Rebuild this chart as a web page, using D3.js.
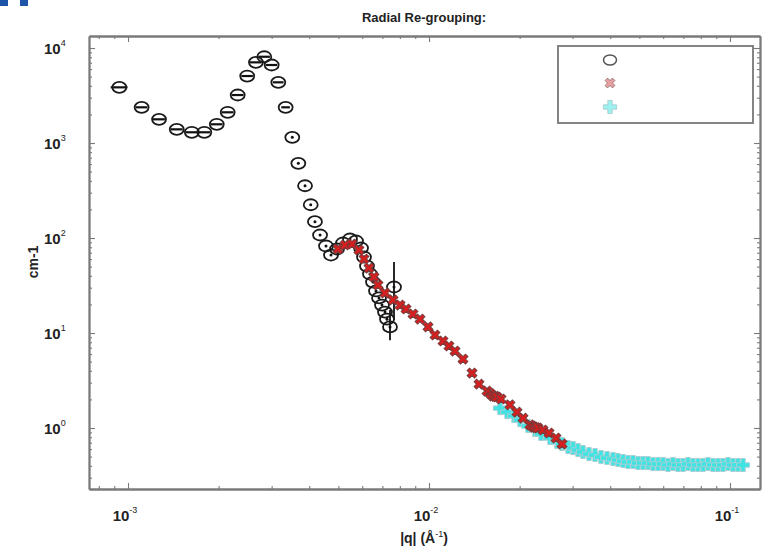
<!DOCTYPE html>
<html>
<head>
<meta charset="utf-8">
<script src="https://cdn.jsdelivr.net/npm/d3@7"></script>
<style>
  body { margin: 0; background: #fff; }
  svg { display: block; font-family: "Liberation Sans", Arial, sans-serif; }
  .frame line, .frame path { stroke: #7a7a7a; }
  .lbl { font-weight: bold; fill: #222; }
</style>
</head>
<body>
<svg width="763" height="548"></svg>
<script>
// black circles (first radial grouping)
var blackQ = [9.36e-4, 1.110e-3, 1.268e-3, 1.452e-3, 1.629e-3, 1.793e-3, 1.972e-3, 2.144e-3,
  2.314e-3, 2.489e-3, 2.661e-3, 2.836e-3, 3.001e-3, 3.157e-3, 3.340e-3, 3.514e-3, 3.680e-3,
  3.874e-3, 4.046e-3, 4.179e-3, 4.345e-3, 4.548e-3, 4.725e-3, 4.948e-3, 5.180e-3, 5.464e-3,
  5.721e-3, 5.944e-3, 6.082e-3, 6.223e-3, 6.368e-3, 6.516e-3, 6.668e-3, 6.823e-3, 6.981e-3,
  7.142e-3, 7.253e-3, 7.42e-3, 7.651e-3];
var blackI = [3855, 2376, 1776, 1393, 1297, 1297, 1574, 2105, 3200, 5070, 7065, 8090, 6625,
  4353, 2376, 1148, 611, 355, 224, 148.6, 107.6, 82.4, 66.2, 76.6, 88.6, 97.6, 93.0, 78.5,
  63.1, 50.7, 41.8, 34.4, 27.7, 23.4, 19.7, 16.6, 14.0, 11.6, 30.5];
// horizontal (q) error, 0 where not visible
var blackDq = [0.6e-4, 0.5e-4, 0.58e-4, 0.66e-4, 0.74e-4, 0.82e-4, 0.9e-4, 0.98e-4, 1.05e-4,
  1.1e-4, 1.2e-4, 1.25e-4, 1.3e-4, 1.3e-4, 1.1e-4, 0, 0, 0, 0, 0, 0, 0, 0, 0, 0, 0, 0, 0, 0,
  0, 0, 0, 0, 0, 0, 0, 0, 0, 0];
// large vertical error bars on the last black points
var errQ = [7.42e-3, 7.651e-3];
var errLo = [8.4, 13.7];
var errHi = [17.5, 56];

// red crosses (second grouping)
var redQ = [4.985e-3, 5.258e-3, 5.548e-3, 5.852e-3, 6.082e-3, 6.319e-3, 6.566e-3, 6.770e-3,
  7.142e-3, 7.594e-3, 8.012e-3, 8.389e-3, 8.848e-3, 9.335e-3, 9.924e-3, 1.047e-2, 1.113e-2,
  1.165e-2, 1.220e-2, 1.297e-2, 1.390e-2, 1.466e-2, 1.559e-2, 1.600e-2, 1.632e-2, 1.660e-2,
  1.682e-2, 1.735e-2, 1.858e-2, 1.961e-2, 2.053e-2, 2.165e-2, 2.200e-2, 2.233e-2, 2.270e-2,
  2.302e-2, 2.392e-2, 2.505e-2, 2.642e-2, 2.767e-2];
var redI = [76.6, 84.4, 86.5, 74.8, 60.1, 48.3, 38.9, 32.0, 26.4, 22.3, 19.7, 17.9, 15.85,
  14.0, 11.6, 9.53, 8.24, 7.30, 6.46, 5.32, 3.79, 2.90, 2.45, 2.30, 2.17, 2.15, 2.12, 2.02,
  1.75, 1.47, 1.27, 1.08, 1.05, 1.02, 1.01, 1.00, 0.953, 0.886, 0.785, 0.679];

// cyan pluses (third grouping)
var cyanQ = [1.721e-2, 1.816e-2, 1.916e-2, 2.006e-2, 2.132e-2, 2.250e-2, 2.356e-2, 2.523e-2,
  2.662e-2, 2.767e-2, 2.897e-2, 3.010e-2, 3.126e-2, 3.248e-2, 3.401e-2, 3.561e-2, 3.728e-2,
  3.904e-2, 4.087e-2, 4.246e-2, 4.411e-2, 4.583e-2, 4.762e-2, 4.948e-2, 5.140e-2, 5.340e-2,
  5.548e-2, 5.765e-2, 5.990e-2, 6.223e-2, 6.465e-2, 6.717e-2, 6.981e-2, 7.253e-2, 7.535e-2,
  7.829e-2, 8.134e-2, 8.450e-2, 8.780e-2, 9.122e-2, 9.478e-2, 9.849e-2, 1.023e-1, 1.063e-1,
  1.105e-1];
var cyanI = [1.62, 1.47, 1.34, 1.21, 1.05, 0.953, 0.865, 0.785, 0.712, 0.679, 0.631, 0.616,
  0.587, 0.559, 0.532, 0.520, 0.495, 0.483, 0.472, 0.460, 0.449, 0.439, 0.439, 0.428, 0.428,
  0.428, 0.418, 0.418, 0.418, 0.408, 0.418, 0.408, 0.408, 0.418, 0.408, 0.408, 0.408, 0.418,
  0.408, 0.408, 0.408, 0.418, 0.408, 0.408, 0.408];

var xMajor = [1e-3, 1e-2, 1e-1];
var yMajor = [1, 10, 100, 1000, 10000];
var xLabels = ["-3", "-2", "-1"];
var yLabels = ["0", "1", "2", "3", "4"];

var svg = d3.select("svg");
var L = 89, R = 760, T = 36, B = 489;

var x = d3.scaleLog().domain([7.42e-4, 0.1258]).range([L, R]);
var y = d3.scaleLog().domain([0.228, 13380]).range([B, T]);

// minor tick values from the scale's own ticks
var xMinor = x.ticks().filter(function(d) { return xMajor.indexOf(d) < 0; });
var yMinor = y.ticks().filter(function(d) { return yMajor.map(String).indexOf(String(d)) < 0; });

// cropped blue heading above the figure
svg.append("rect").attr("x", 0).attr("y", 0).attr("width", 8).attr("height", 6).attr("fill", "#1f55a8");
svg.append("rect").attr("x", 20).attr("y", 0).attr("width", 8).attr("height", 6).attr("fill", "#1f55a8");

var frame = svg.append("g").attr("class", "frame");
function addAxis(gen, tr, vals, size) {
  var g = frame.append("g").attr("transform", tr)
    .call(gen.tickValues(vals).tickSizeInner(size).tickSizeOuter(0).tickFormat(""));
  g.select(".domain").attr("stroke-width", 1.8);
  g.selectAll(".tick line").attr("stroke-width", 1.1);
  return g;
}
addAxis(d3.axisBottom(x), "translate(0," + B + ")", xMajor, -6);
addAxis(d3.axisBottom(x), "translate(0," + B + ")", xMinor, -3);
addAxis(d3.axisTop(x), "translate(0," + T + ")", xMajor, -6);
addAxis(d3.axisTop(x), "translate(0," + T + ")", xMinor, -3);
addAxis(d3.axisLeft(y), "translate(" + L + ",0)", yMajor, -6);
addAxis(d3.axisLeft(y), "translate(" + L + ",0)", yMinor, -3);
addAxis(d3.axisRight(y), "translate(" + R + ",0)", yMajor, -6);
addAxis(d3.axisRight(y), "translate(" + R + ",0)", yMinor, -3);

// tick labels 10^n
xMajor.forEach(function(v, i) {
  var t = svg.append("text").attr("class", "lbl").attr("x", x(v) - 3).attr("y", 521)
    .attr("text-anchor", "middle").style("font-size", "15px");
  t.append("tspan").text("10");
  t.append("tspan").attr("dy", -8).style("font-size", "9px").style("font-weight", "normal").text(xLabels[i]);
});
yMajor.forEach(function(v, i) {
  var t = svg.append("text").attr("class", "lbl").attr("x", 44).attr("y", y(v) + 6)
    .style("font-size", "15px");
  t.append("tspan").text("10");
  t.append("tspan").attr("dy", -8).style("font-size", "9px").style("font-weight", "normal").text(yLabels[i]);
});

svg.append("text").attr("class", "lbl").attr("x", 424).attr("y", 22)
  .attr("text-anchor", "middle").style("font-size", "13px").text("Radial Re-grouping:");

var xl = svg.append("text").attr("class", "lbl").attr("x", 424).attr("y", 543)
  .attr("text-anchor", "middle").style("font-size", "14px");
xl.append("tspan").text("|q| (Å");
xl.append("tspan").attr("dy", -6).style("font-size", "9px").style("font-weight", "normal").text("-1");
xl.append("tspan").attr("dy", 6).text(")");

svg.append("text").attr("class", "lbl").attr("transform", "translate(38,262) rotate(-90)")
  .attr("text-anchor", "middle").style("font-size", "14px").text("cm-1");

// data
var black = blackQ.map(function(q, i) { return { q: q, v: blackI[i], dq: blackDq[i] }; });
var red = redQ.map(function(q, i) { return { q: q, v: redI[i] }; });
var cyan = cyanQ.map(function(q, i) { return { q: q, v: cyanI[i] }; });

var gB = svg.append("g");
gB.selectAll("line.xe").data(black.filter(function(d) { return d.dq > 0; })).enter().append("line")
  .attr("x1", function(d) { return x(d.q - d.dq); })
  .attr("x2", function(d) { return x(d.q + d.dq); })
  .attr("y1", function(d) { return y(d.v); })
  .attr("y2", function(d) { return y(d.v); })
  .attr("stroke", "#111").attr("stroke-width", 2.2);
gB.selectAll("line.ye").data(errQ).enter().append("line")
  .attr("x1", function(d) { return x(d); }).attr("x2", function(d) { return x(d); })
  .attr("y1", function(d, i) { return y(errLo[i]); })
  .attr("y2", function(d, i) { return y(errHi[i]); })
  .attr("stroke", "#111").attr("stroke-width", 1.8);
gB.selectAll("ellipse").data(black).enter().append("ellipse")
  .attr("cx", function(d) { return x(d.q); }).attr("cy", function(d) { return y(d.v); })
  .attr("rx", 7).attr("ry", 5.5)
  .attr("fill", "none").attr("stroke", "#1a1a1a").attr("stroke-width", 1.8);
gB.selectAll("circle").data(black.filter(function(d) { return d.dq === 0; })).enter().append("circle")
  .attr("cx", function(d) { return x(d.q); }).attr("cy", function(d) { return y(d.v); })
  .attr("r", 1.5).attr("fill", "#111");

var plus = d3.symbol().type(d3.symbolCross).size(95);
var cross = d3.symbol().type(d3.symbolCross).size(60);

svg.append("g").selectAll("path").data(cyan).enter().append("path")
  .attr("d", plus)
  .attr("transform", function(d) { return "translate(" + x(d.q) + "," + y(d.v) + ")"; })
  .attr("fill", "#3fe3e3").attr("stroke", "#a9cfd3").attr("stroke-width", 1);

svg.append("g").selectAll("path").data(red).enter().append("path")
  .attr("d", cross)
  .attr("transform", function(d) { return "translate(" + x(d.q) + "," + y(d.v) + ") rotate(45)"; })
  .attr("fill", "#d81e1e").attr("stroke", "#7a3a3a").attr("stroke-width", 1);

// legend (no labels in the original)
var lg = svg.append("g");
lg.append("rect").attr("x", 558).attr("y", 46).attr("width", 195).attr("height", 77)
  .attr("fill", "#fff").attr("stroke", "#777").attr("stroke-width", 1.8);
lg.append("ellipse").attr("cx", 610).attr("cy", 60).attr("rx", 6.5).attr("ry", 5)
  .attr("fill", "none").attr("stroke", "#555").attr("stroke-width", 1.5);
lg.append("path").attr("d", cross).attr("transform", "translate(610,83) rotate(45)")
  .attr("fill", "#e8a0a0").attr("stroke", "#8a6a6a").attr("stroke-width", 0.8);
lg.append("path").attr("d", plus).attr("transform", "translate(610,107)")
  .attr("fill", "#9ff0f0").attr("stroke", "#9fc8cc").attr("stroke-width", 0.8);
</script>
</body>
</html>
